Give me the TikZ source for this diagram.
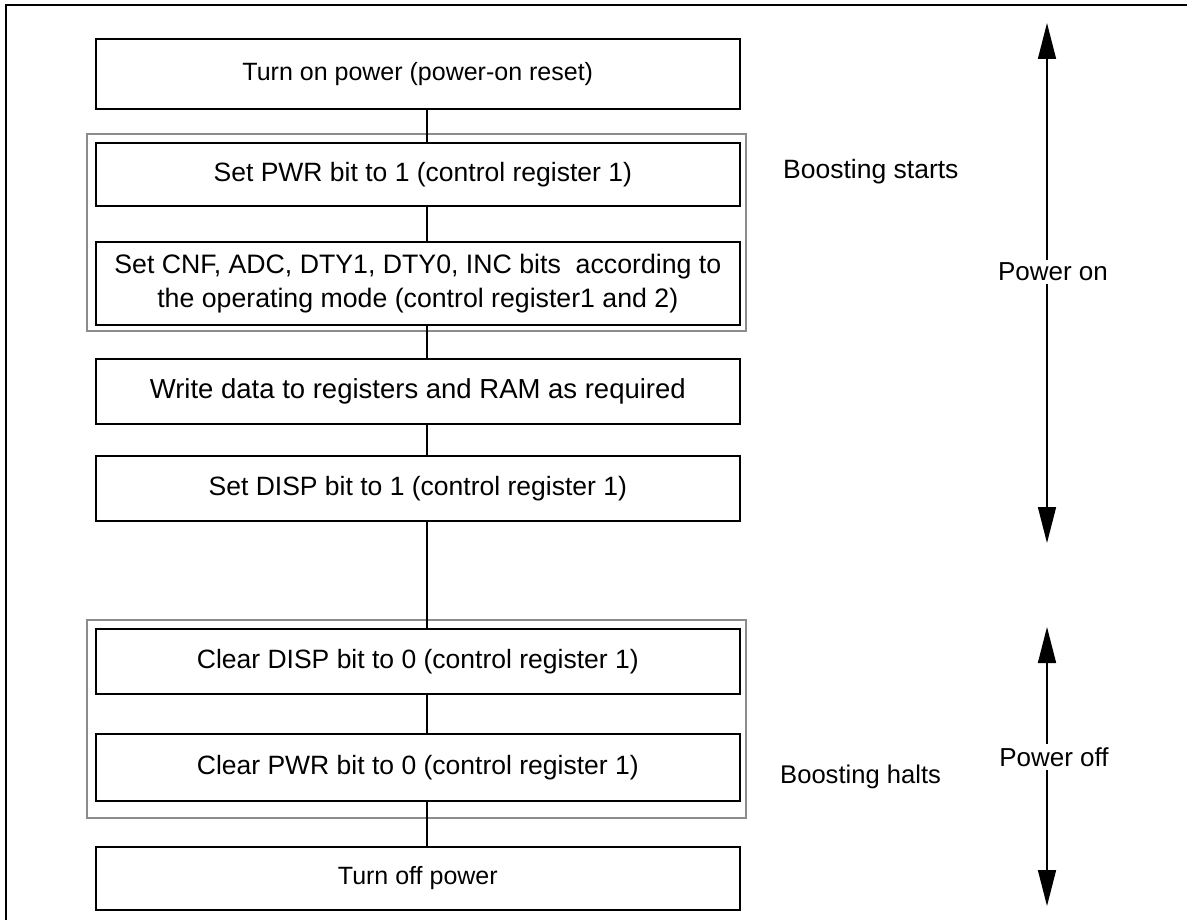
\documentclass[tikz,border=0pt]{standalone}
\usepackage{fontspec}
\setmainfont{Liberation Sans}
\usetikzlibrary{arrows.meta}
\newcommand{\fs}[1]{\fontsize{#1}{34}\selectfont}
\begin{document}
\begin{tikzpicture}[x=1pt,y=-1pt,
  stepbox/.style={draw=black,line width=1.6pt,minimum width=644pt,anchor=north west,
    inner sep=0pt,align=center,font=\fs{26.5}},
  grp/.style={draw=black!45,line width=1.6pt},
  conn/.style={draw=black,line width=1.6pt},
  lbl/.style={font=\fs{26},inner sep=0pt},
  span/.style={line width=1.6pt,{Triangle[length=36pt,width=18pt]}-{Triangle[length=36pt,width=18pt]}}]
\useasboundingbox (0,0) rectangle (1187,920);
\draw[line width=1.6pt] (6,920) -- (6,5) -- (1187,5);
% groups
\draw[grp] (87,134) rectangle (746,331);
\draw[grp] (87,620) rectangle (746,818);
% boxes
\node[stepbox,minimum height=70pt,font=\fs{25}] (b1) at (95,38) {Turn on power (power-on reset)};
\node[stepbox,minimum height=63pt] (b2) at (95,142) {\hspace*{10pt}Set PWR bit to 1 (control register 1)};
\node[stepbox,minimum height=83pt,font=\fs{26.7}] (b3) at (95,241) {Set CNF, ADC, DTY1, DTY0, INC bits\ \ according to\\the operating mode (control register1 and 2)};
\node[stepbox,minimum height=65pt,font=\fs{27.5}] (b4) at (95,358) {Write data to registers and RAM as required};
\node[stepbox,minimum height=65pt] (b5) at (95,455) {Set DISP bit to 1 (control register 1)};
\node[stepbox,minimum height=65pt] (b6) at (95,628) {Clear DISP bit to 0 (control register 1)};
\node[stepbox,minimum height=67pt] (b7) at (95,733) {Clear PWR bit to 0 (control register 1)};
\node[stepbox,minimum height=63pt,font=\fs{25}] (b8) at (95,846) {Turn off power};
% connectors
\coordinate (lx) at (427,0);
\draw[conn] (b1.south -| lx) -- (b2.north -| lx);
\draw[conn] (b2.south -| lx) -- (b3.north -| lx);
\draw[conn] (b3.south -| lx) -- (b4.north -| lx);
\draw[conn] (b4.south -| lx) -- (b5.north -| lx);
\draw[conn] (b5.south -| lx) -- (b6.north -| lx);
\draw[conn] (b6.south -| lx) -- (b7.north -| lx);
\draw[conn] (b7.south -| lx) -- (b8.north -| lx);
% labels
\node[lbl,anchor=west,font=\fs{26.5}] (bs) at (783,172) {Boosting starts};
\node[lbl,anchor=west,font=\fs{25.6}] (bh) at (780,777) {Boosting halts};
\coordinate (on1) at (1047,23);
\coordinate (on2) at (1047,543);
\coordinate (off1) at (1047,627);
\coordinate (off2) at (1047,906);
\draw[span] (on1) -- (on2);
\draw[span] (off1) -- (off2);
\node[lbl,fill=white,inner sep=3pt] (pon) at (1053,272) {Power on};
\node[lbl,fill=white,inner sep=3pt] (poff) at (1054,757) {Power off};
\end{tikzpicture}
\end{document}
